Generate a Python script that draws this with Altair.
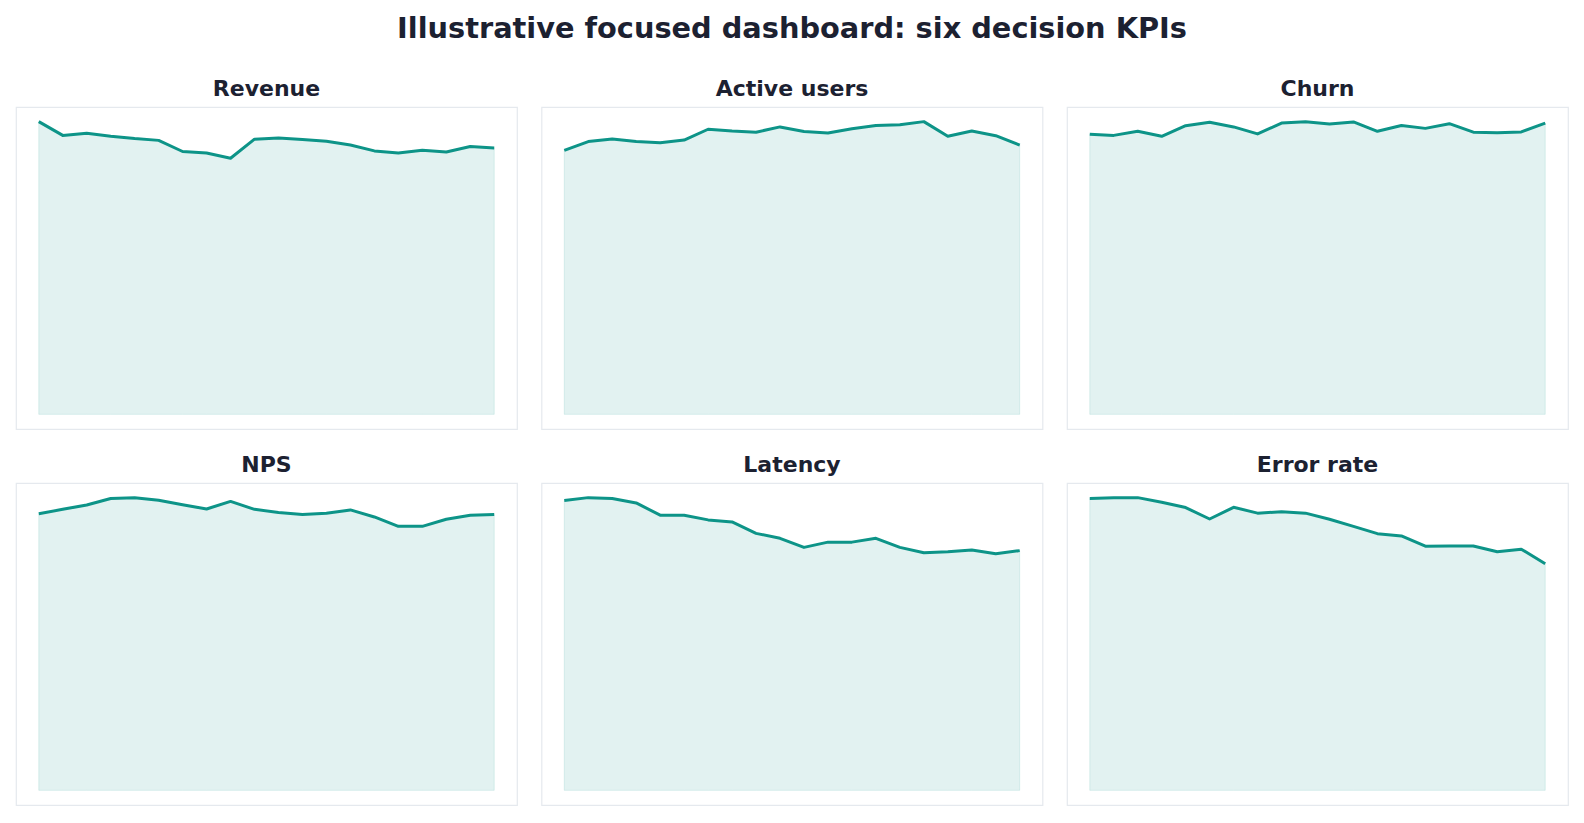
import altair as alt
import pandas as pd

# ---- data (index values, each series read relative to its own peak) ----
kpis = ["Revenue", "Active users", "Churn", "NPS", "Latency", "Error rate"]
periods = list(range(20))

revenue = [100.0, 95.3, 96.0, 95.0, 94.2, 93.6, 89.8, 89.3, 87.5, 94.0,
           94.4, 93.9, 93.3, 92.0, 90.0, 89.3, 90.2, 89.6, 91.5, 91.0]
active_users = [90.2, 93.2, 94.1, 93.2, 92.8, 93.7, 97.4, 96.8, 96.4, 98.2,
                96.6, 96.1, 97.6, 98.7, 98.9, 100.0, 95.0, 96.8, 95.2, 92.0]
churn = [95.7, 95.3, 96.7, 95.0, 98.6, 99.8, 98.2, 95.8, 99.5, 100.0,
         99.2, 99.9, 96.7, 98.7, 97.7, 99.3, 96.4, 96.2, 96.5, 99.5]
nps = [94.5, 96.0, 97.5, 99.7, 100.0, 99.1, 97.6, 96.1, 98.7, 96.0,
       94.9, 94.2, 94.7, 95.8, 93.4, 90.2, 90.2, 92.6, 94.0, 94.2]
latency = [99.0, 100.0, 99.7, 98.2, 94.0, 94.0, 92.4, 91.7, 87.8, 86.1,
           83.0, 84.8, 84.8, 86.1, 83.0, 81.2, 81.5, 82.1, 80.8, 81.9]
error_rate = [99.7, 100.0, 100.0, 98.4, 96.6, 92.7, 96.7, 94.7, 95.2, 94.7,
              92.6, 90.2, 87.7, 86.9, 83.4, 83.5, 83.5, 81.5, 82.4, 77.4]

series = [revenue, active_users, churn, nps, latency, error_rate]

TEAL = "#0d9488"
INK = "#1c2131"
FONT = "DejaVu Sans"

x_lo = periods[0] - 0.05 * (periods[-1] - periods[0])
x_hi = periods[-1] + 0.05 * (periods[-1] - periods[0])


def panel(name, values):
    df = pd.DataFrame({"period": periods, "value": values})
    vmax = max(values)
    y_scale = alt.Scale(domain=[-0.05 * vmax, 1.05 * vmax], nice=False, zero=False)
    x_scale = alt.Scale(domain=[x_lo, x_hi], nice=False, zero=False)
    base = alt.Chart(df)
    area = base.mark_area(
        fill=TEAL, fillOpacity=0.12, stroke=TEAL, strokeOpacity=0.12, strokeWidth=1
    ).encode(
        x=alt.X("period:Q", scale=x_scale, axis=None),
        y=alt.Y("value:Q", scale=y_scale, axis=None),
        y2=alt.datum(0),
    )
    line = base.mark_line(color=TEAL, strokeWidth=3, strokeJoin="round").encode(
        x=alt.X("period:Q", scale=x_scale, axis=None),
        y=alt.Y("value:Q", scale=y_scale, axis=None),
    )
    return alt.layer(area, line).properties(
        width=501,
        height=322,
        title=alt.TitleParams(
            name, fontSize=22, fontWeight="bold", color=INK, font=FONT,
            anchor="middle", offset=6,
        ),
    )


panels = [panel(n, v) for n, v in zip(kpis, series)]
row1 = alt.hconcat(*panels[:3], spacing=22.5)
row2 = alt.hconcat(*panels[3:], spacing=22.5)

chart = alt.vconcat(row1, row2, spacing=23).properties(
    title=alt.TitleParams(
        "Illustrative focused dashboard: six decision KPIs",
        fontSize=28.8, fontWeight="bold", color=INK, font=FONT,
        anchor="middle", offset=34,
    ),
    padding={"left": 15, "top": 14, "right": 0, "bottom": 0},
    background="white",
).configure_view(
    stroke="#e5e9ee", strokeWidth=1.2
)

chart.save("out.html", embed_options={"renderer": "svg", "actions": False})
